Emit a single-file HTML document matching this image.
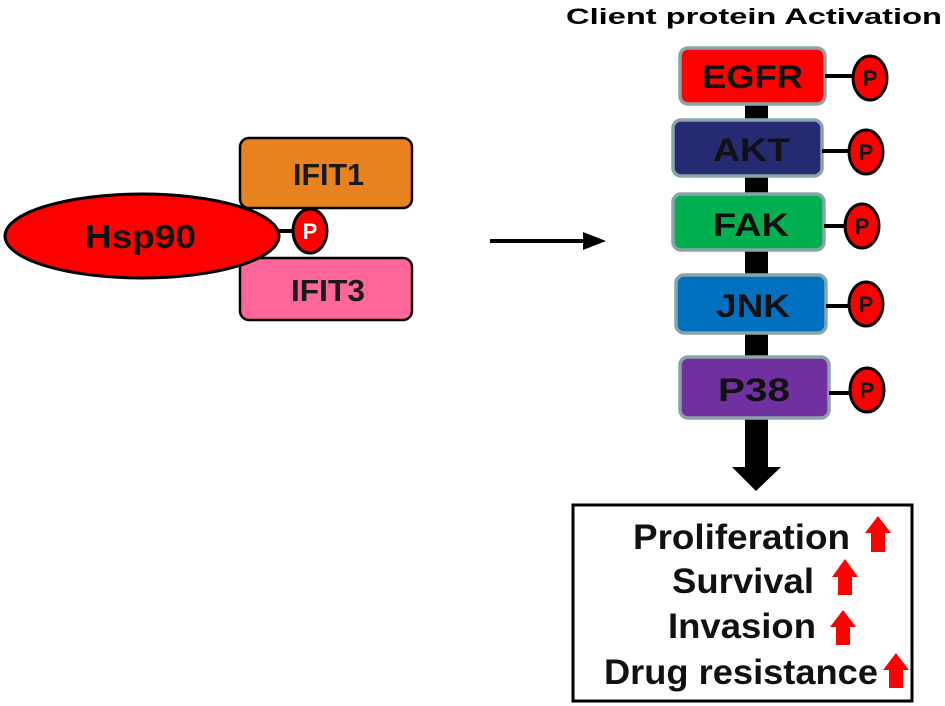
<!DOCTYPE html>
<html><head><meta charset="utf-8"><style>
html,body{margin:0;padding:0;background:#fff}
svg{display:block}
text{font-family:"Liberation Sans",Arial,sans-serif;font-weight:bold}
</style></head><body>
<svg width="945" height="706" viewBox="0 0 945 706" xmlns="http://www.w3.org/2000/svg">
<text x="566" y="24" font-size="22" textLength="376" lengthAdjust="spacingAndGlyphs">Client protein Activation</text>
<!-- left group -->
<rect x="240" y="138" width="172" height="70" rx="9" fill="#e8821e" stroke="#000" stroke-width="2.5"/>
<text x="293" y="185" font-size="31" textLength="71" lengthAdjust="spacingAndGlyphs" fill="#1a1a1a">IFIT1</text>
<rect x="240" y="258" width="172" height="62" rx="9" fill="#ff6699" stroke="#000" stroke-width="2.5"/>
<text x="291" y="301" font-size="31" textLength="74" lengthAdjust="spacingAndGlyphs" fill="#1a1a1a">IFIT3</text>
<line x1="275" y1="231" x2="298" y2="231" stroke="#000" stroke-width="4"/>
<ellipse cx="142" cy="236" rx="137" ry="42" fill="#ff0000" stroke="#000" stroke-width="3"/>
<text x="85" y="248" font-size="33" textLength="111" lengthAdjust="spacingAndGlyphs" fill="#111">Hsp90</text>
<ellipse cx="310" cy="231" rx="17" ry="22" fill="#ff0000" stroke="#000" stroke-width="3"/>
<text x="310" y="239" font-size="22" text-anchor="middle" fill="#fff">P</text>
<!-- horizontal arrow -->
<line x1="490" y1="241" x2="590" y2="241" stroke="#000" stroke-width="4"/>
<polygon points="583,232 606,241 583,250" fill="#000"/>
<!-- vertical connector -->
<rect x="745" y="100" width="23" height="368" fill="#000"/>
<polygon points="732,467 781,467 756,491" fill="#000"/>
<!-- boxes -->
<g stroke="#8aa3a8" stroke-width="3.5">
<rect x="680" y="48" width="145" height="56" rx="8" fill="#ff0000"/>
<rect x="673" y="120" width="149" height="56" rx="8" fill="#262a72"/>
<rect x="673" y="194" width="151" height="56" rx="8" fill="#00b050"/>
<rect x="676" y="275" width="150" height="58" rx="8" fill="#0070c0"/>
<rect x="680" y="357" width="149" height="61" rx="8" fill="#7030a0"/>
</g>
<g font-size="32" fill="#111" lengthAdjust="spacingAndGlyphs">
<text x="702" y="88" textLength="101" lengthAdjust="spacingAndGlyphs">EGFR</text>
<text x="713" y="161" textLength="77" lengthAdjust="spacingAndGlyphs">AKT</text>
<text x="713" y="236" textLength="76" lengthAdjust="spacingAndGlyphs">FAK</text>
<text x="716" y="317" textLength="74" lengthAdjust="spacingAndGlyphs">JNK</text>
<text x="718" y="401" textLength="72" lengthAdjust="spacingAndGlyphs">P38</text>
</g>
<g stroke="#000" stroke-width="4">
<line x1="825" y1="76" x2="853" y2="76"/>
<line x1="822" y1="151" x2="849" y2="151"/>
<line x1="824" y1="226" x2="845" y2="226"/>
<line x1="826" y1="306" x2="849" y2="306"/>
<line x1="829" y1="393" x2="850" y2="393"/>
</g>
<g fill="#ff0000" stroke="#000" stroke-width="3">
<ellipse cx="870" cy="78" rx="17" ry="22"/>
<ellipse cx="866" cy="152" rx="17" ry="22"/>
<ellipse cx="862" cy="226" rx="17" ry="22"/>
<ellipse cx="866" cy="304" rx="17" ry="22"/>
<ellipse cx="867" cy="390" rx="17" ry="22"/>
</g>
<g font-size="22" text-anchor="middle" fill="#111">
<text x="870" y="86">P</text>
<text x="866" y="160">P</text>
<text x="862" y="234">P</text>
<text x="866" y="312">P</text>
<text x="867" y="398">P</text>
</g>
<!-- outcome box -->
<rect x="573" y="505" width="339" height="196" fill="#fff" stroke="#000" stroke-width="3"/>
<g font-size="35" fill="#111">
<text x="633" y="549" textLength="217" lengthAdjust="spacingAndGlyphs">Proliferation</text>
<text x="672" y="593" textLength="142" lengthAdjust="spacingAndGlyphs">Survival</text>
<text x="668" y="638" textLength="148" lengthAdjust="spacingAndGlyphs">Invasion</text>
<text x="604" y="684" textLength="274" lengthAdjust="spacingAndGlyphs">Drug resistance</text>
</g>
<g fill="#ff0000">
<polygon points="871,552 871,533 865,533 878,516 891,533 885,533 885,552"/>
<polygon points="838,595 838,577 832,577 845,559 858,577 852,577 852,595"/>
<polygon points="836,645 836,627 830,627 843,610 856,627 850,627 850,645"/>
<polygon points="889,688 889,670 883,670 896,653 909,670 903,670 903,688"/>
</g>
</svg>
</body></html>
